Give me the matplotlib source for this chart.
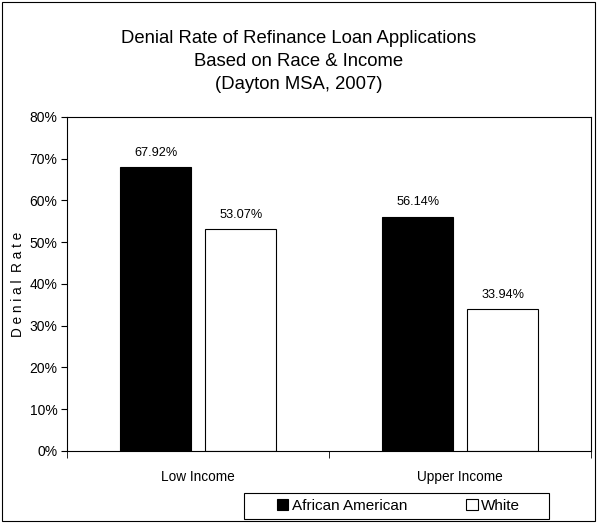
import matplotlib
matplotlib.use("Agg")
from matplotlib import pyplot as plt
from matplotlib.patches import Rectangle
import numpy as np

plt.rcParams['font.family'] = ['Liberation Sans', 'DejaVu Sans']

categories = ["Low Income", "Upper Income"]
african_american = [67.92, 56.14]
white = [53.07, 33.94]
yticks = [0, 10, 20, 30, 40, 50, 60, 70, 80]

fig = plt.figure(figsize=(5.97, 5.23), dpi=100)
ax = fig.add_axes([0.1122, 0.1377, 0.8778, 0.6386])

x = np.arange(len(categories))
w = 0.272
b1 = ax.bar(x - 0.161, african_american, w, color="black", edgecolor="black", linewidth=0.8, label="African American")
b2 = ax.bar(x + 0.163, white, w, color="white", edgecolor="black", linewidth=0.8, label="White")

for bars, vals in ((b1, african_american), (b2, white)):
    for r, v in zip(bars, vals):
        ax.text(r.get_x() + r.get_width() / 2, v + 2.0, "%.2f%%" % v,
                ha="center", va="bottom", fontsize=9.2)

ax.set_xlim(-0.5, 1.5)
ax.set_ylim(0, 80)
ax.set_yticks(yticks)
ax.set_yticklabels(["%d%%" % t for t in yticks], fontsize=10)
ax.set_xticks(x)
ax.set_xticklabels(categories, fontsize=9.8)
ax.tick_params(axis="x", which="major", length=0, pad=14)
ax.set_xticks([-0.5, 0.5, 1.5], minor=True)
ax.tick_params(axis="x", which="minor", length=5, direction="out")
ax.tick_params(axis="y", length=4, direction="out", pad=3)
for s in ax.spines.values():
    s.set_linewidth(0.8)
ax.set_ylabel("D e n i a l  R a t e", fontsize=9.8, labelpad=3)

fig.text(0.5, 0.883, "Denial Rate of Refinance Loan Applications\nBased on Race & Income\n(Dayton MSA, 2007)",
         ha="center", va="center", fontsize=13.3, linespacing=1.45)

# legend box drawn separately so its padding matches
fig.patches.append(Rectangle((244 / 597, 4 / 523), 305 / 597, 26 / 523, transform=fig.transFigure,
                             fill=False, edgecolor="black", linewidth=0.8))
leg = fig.legend(handles=[b1, b2], loc="center", bbox_to_anchor=(0.6675, 0.0325),
                 ncol=2, frameon=False, fontsize=11,
                 handlelength=0.75, handleheight=0.75, handletextpad=0.2,
                 columnspacing=3.9, borderpad=0.2)

fig.patches.append(Rectangle((0.004, 0.004), 0.992, 0.992, transform=fig.transFigure,
                             fill=False, edgecolor="black", linewidth=0.8))

plt.savefig("out.png", dpi=100)
